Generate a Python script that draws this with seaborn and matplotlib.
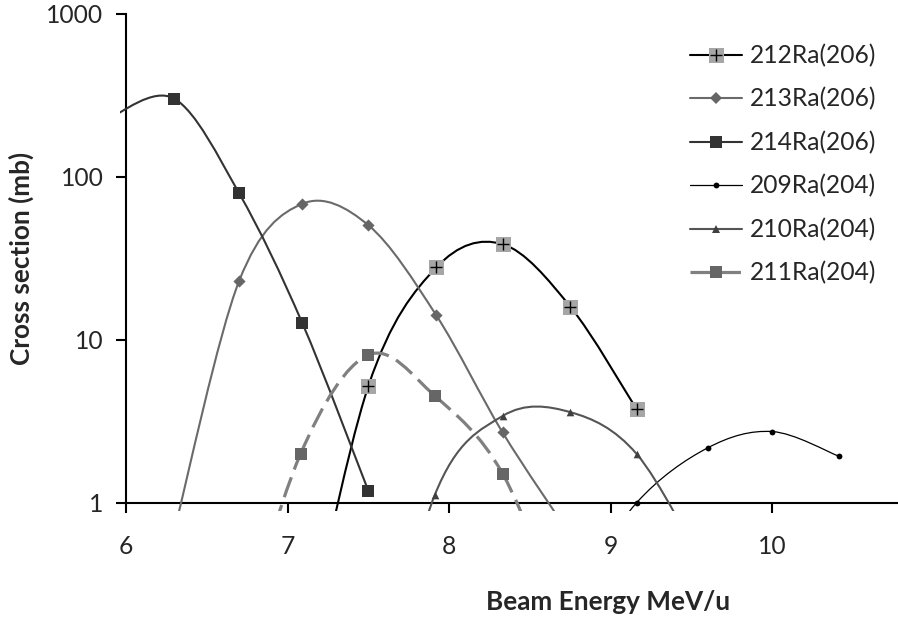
import numpy as np
import pandas as pd
import matplotlib
matplotlib.use("Agg")
import matplotlib.pyplot as plt
import seaborn as sns
from matplotlib.path import Path
from matplotlib.patches import PathPatch, Rectangle
from matplotlib.lines import Line2D
from matplotlib.ticker import FixedLocator, FixedFormatter, NullLocator

# ---------------- data ----------------
series_names = ["212Ra(206)", "213Ra(206)", "214Ra(206)", "209Ra(204)", "210Ra(204)", "211Ra(204)"]

# first / last values of some series lie outside the visible range (curves run off the axes)
energy_212 = [7.08, 7.50, 7.92, 8.33, 8.75, 9.16]
xsec_212 = [0.09, 5.2, 27.7, 38.5, 15.9, 3.74]

energy_213 = [6.31, 6.70, 7.09, 7.50, 7.92, 8.33, 8.75]
xsec_213 = [0.75, 22.9, 68.0, 50.3, 14.1, 2.70, 0.63]

energy_214 = [5.90, 6.30, 6.70, 7.09, 7.50]
xsec_214 = [230, 300, 79, 12.7, 1.18]

energy_209 = [8.75, 9.16, 9.60, 10.00, 10.41]
xsec_209 = [0.25, 1.0, 2.17, 2.73, 1.93]

energy_210 = [7.50, 7.91, 8.33, 8.75, 9.16, 9.58]
xsec_210 = [0.03, 1.11, 3.40, 3.59, 1.99, 0.4]

energy_211 = [6.66, 7.08, 7.50, 7.91, 8.33, 8.75]
xsec_211 = [0.1, 1.99, 8.06, 4.53, 1.51, 0.15]

x_ticks = [6, 7, 8, 9, 10]
x_ticklabels = ["6", "7", "8", "9", "10"]
y_ticks = [1, 10, 100, 1000]
y_ticklabels = ["1", "10", "100", "1000"]

x_title = "Beam Energy MeV/u"
y_title = "Cross section (mb)"

# ---------------- styles ----------------
styles = {
    "212Ra(206)": dict(lc="black", lw=1.5, ls="-", marker="s", ms=10.8, mc="#a6a6a6", plus=True),
    "213Ra(206)": dict(lc="#6a6a6a", lw=1.5, ls="-", marker="D", ms=6.2, mc="#666666", plus=False),
    "214Ra(206)": dict(lc="#333333", lw=1.5, ls="-", marker="s", ms=8.6, mc="#333333", plus=False),
    "209Ra(204)": dict(lc="black", lw=0.9, ls="-", marker="o", ms=4.2, mc="black", plus=False),
    "210Ra(204)": dict(lc="#555555", lw=1.5, ls="-", marker="^", ms=5.5, mc="#404040", plus=False),
    "211Ra(204)": dict(lc="#808080", lw=2.3, ls=(0, (6.6, 2.6)), marker="s", ms=8.6, mc="#666666", plus=False),
}

frames = []
for name, ex, xs in [("212Ra(206)", energy_212, xsec_212), ("213Ra(206)", energy_213, xsec_213),
                     ("214Ra(206)", energy_214, xsec_214), ("209Ra(204)", energy_209, xsec_209),
                     ("210Ra(204)", energy_210, xsec_210), ("211Ra(204)", energy_211, xsec_211)]:
    frames.append(pd.DataFrame({"energy": ex, "xsec": xs, "series": name}))
df = pd.concat(frames, ignore_index=True)

# ---------------- figure ----------------
sns.set_style("ticks")
plt.rcParams["font.family"] = ["Lato", "DejaVu Sans"]
text_color = "#262626"
tick_fs = 17.7
title_fs = 18.8

W, H = 898, 621
fig = plt.figure(figsize=(W / 100, H / 100), dpi=100)
ax_left, ax_right, ax_top, ax_bottom = 126, 898, 13.5, 502.7
ax = fig.add_axes([ax_left / W, 1 - ax_bottom / H, (ax_right - ax_left) / W, (ax_bottom - ax_top) / H])
ax.set_yscale("log")
px_per_unit = 161.6
ax.set_xlim(6, 6 + (ax_right - ax_left) / px_per_unit)
ax.set_ylim(1, 1000)

# clip region slightly larger than the plot area (as in the original)
aw, ah = ax_right - ax_left, ax_bottom - ax_top
clip_rect = Rectangle((-6 / aw, -8 / ah), 1 + 6 / aw, 1 + 8 / ah, transform=ax.transAxes,
                      fill=False, visible=False)
ax.add_patch(clip_rect)


def smooth_segments(xs, ys):
    """Bezier segments through the data points (smoothed-line rendering in log space)."""
    lx = np.asarray(xs, float)
    ly = np.log10(np.asarray(ys, float))
    n = len(lx)
    segs = []
    for i in range(n - 1):
        i0 = max(i - 1, 0)
        i3 = min(i + 2, n - 1)
        c1x = lx[i] + (lx[i + 1] - lx[i0]) / 6
        c1y = ly[i] + (ly[i + 1] - ly[i0]) / 6
        c2x = lx[i + 1] - (lx[i3] - lx[i]) / 6
        c2y = ly[i + 1] - (ly[i3] - ly[i]) / 6
        verts = [(lx[i], 10 ** ly[i]), (c1x, 10 ** c1y), (c2x, 10 ** c2y), (lx[i + 1], 10 ** ly[i + 1])]
        segs.append(Path(verts, [Path.MOVETO, Path.CURVE4, Path.CURVE4, Path.CURVE4]))
    return segs


z = 2
for name in series_names:
    st = styles[name]
    sub = df[df["series"] == name]
    for seg in smooth_segments(sub["energy"], sub["xsec"]):
        p = PathPatch(seg, fill=False, edgecolor=st["lc"], lw=st["lw"], linestyle=st["ls"],
                      capstyle="butt", zorder=z)
        ax.add_patch(p)
        p.set_clip_path(clip_rect)
    n_before = len(ax.collections)
    sns.scatterplot(data=sub, x="energy", y="xsec", ax=ax, marker=st["marker"], s=st["ms"] ** 2,
                    color=st["mc"], edgecolor=st["mc"], linewidth=0, legend=False, zorder=z + 0.5)
    if st["plus"]:
        sns.scatterplot(data=sub, x="energy", y="xsec", ax=ax, marker="+", s=8.5 ** 2,
                        color="black", linewidth=1.0, legend=False, zorder=z + 0.6)
    for coll in ax.collections[n_before:]:
        coll.set_clip_path(clip_rect)
    z += 1

# ---------------- axes styling ----------------
for s in ["top", "right"]:
    ax.spines[s].set_visible(False)
for s in ["left", "bottom"]:
    ax.spines[s].set_linewidth(1.5)
    ax.spines[s].set_color("black")

ax.xaxis.set_major_locator(FixedLocator(x_ticks))
ax.xaxis.set_major_formatter(FixedFormatter(x_ticklabels))
ax.yaxis.set_major_locator(FixedLocator(y_ticks))
ax.yaxis.set_major_formatter(FixedFormatter(y_ticklabels))
ax.yaxis.set_minor_locator(NullLocator())
ax.xaxis.set_minor_locator(NullLocator())
ax.tick_params(axis="both", which="major", direction="out", length=7.2, width=1.5,
               color="black", labelsize=tick_fs, labelcolor=text_color)
ax.tick_params(axis="x", pad=16)
ax.tick_params(axis="y", pad=9)

ax.set_xlabel(x_title, fontsize=title_fs, fontweight="bold", color=text_color)
ax.set_ylabel(y_title, fontsize=title_fs, fontweight="bold", color=text_color)
ax.xaxis.label.set_va("baseline")
ax.xaxis.set_label_coords((608 - ax_left) / aw, (ax_bottom - 610.5) / ah)
ax.yaxis.label.set_va("center")
ax.yaxis.set_label_coords((21 - ax_left) / aw, 0.5)

# ---------------- legend ----------------
handles = []
for name in series_names:
    st = styles[name]
    ln = Line2D([], [], color=st["lc"], lw=st["lw"], linestyle=st["ls"], marker=st["marker"],
                markersize=st["ms"], markerfacecolor=st["mc"], markeredgecolor=st["mc"],
                markeredgewidth=0, dash_capstyle="butt")
    if st["plus"]:
        pl = Line2D([], [], linestyle="none", marker="+", markersize=8.5, markeredgecolor="black",
                    markeredgewidth=1.0)
        handles.append((ln, pl))
    else:
        handles.append(ln)

fs_px = tick_fs * 100 / 72
leg = fig.legend(handles, series_names, loc="upper left",
                 bbox_to_anchor=(690 / W, 1 - 44 / H), bbox_transform=fig.transFigure,
                 frameon=False, fontsize=tick_fs, borderpad=0, borderaxespad=0,
                 handlelength=52 / fs_px, handletextpad=8 / fs_px, labelspacing=0.82,
                 labelcolor=text_color)

fig.savefig("out.png", dpi=100)
